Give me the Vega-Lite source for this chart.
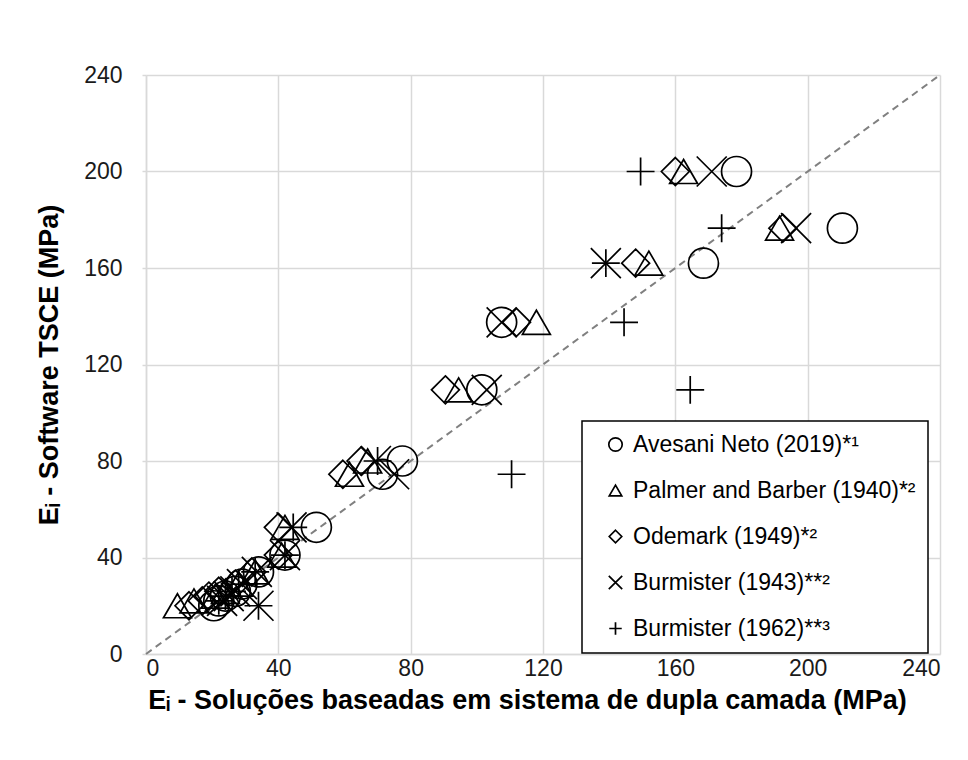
{
  "$schema": "https://vega.github.io/schema/vega-lite/v6.json",
  "width": 794,
  "height": 579,
  "autosize": {"type": "none"},
  "padding": {"left": 146, "top": 75, "right": 28, "bottom": 106},
  "background": "white",
  "datasets": {
    "identidade": [{"x": 0, "y": 0, "x2": 240, "y2": 240}],
    "pontos": [
      {"serie": "Odemark (1949)*²", "x": 160, "y": 200},
      {"serie": "Palmer and Barber (1940)*²", "x": 162.5, "y": 200},
      {"serie": "Burmister (1943)**²", "x": 171, "y": 200},
      {"serie": "Burmister (1962)**³", "x": 149.5, "y": 200},
      {"serie": "Avesani Neto (2019)*¹", "x": 178.5, "y": 200},
      {"serie": "Odemark (1949)*²", "x": 192.5, "y": 176.5},
      {"serie": "Palmer and Barber (1940)*²", "x": 191.5, "y": 176.5},
      {"serie": "Burmister (1943)**²", "x": 196.5, "y": 176.5},
      {"serie": "Burmister (1962)**³", "x": 174, "y": 176.5},
      {"serie": "Avesani Neto (2019)*¹", "x": 210.5, "y": 176.5},
      {"serie": "Odemark (1949)*²", "x": 148, "y": 162},
      {"serie": "Palmer and Barber (1940)*²", "x": 152, "y": 162},
      {"serie": "Burmister (1943)**²", "x": 139, "y": 162},
      {"serie": "Burmister (1962)**³", "x": 139, "y": 162},
      {"serie": "Avesani Neto (2019)*¹", "x": 168.5, "y": 162},
      {"serie": "Odemark (1949)*²", "x": 112, "y": 137.5},
      {"serie": "Palmer and Barber (1940)*²", "x": 118, "y": 137.5},
      {"serie": "Burmister (1943)**²", "x": 107.5, "y": 137.5},
      {"serie": "Burmister (1962)**³", "x": 144.5, "y": 137.5},
      {"serie": "Avesani Neto (2019)*¹", "x": 107.5, "y": 137.5},
      {"serie": "Odemark (1949)*²", "x": 90.5, "y": 109.5},
      {"serie": "Palmer and Barber (1940)*²", "x": 94.5, "y": 109.5},
      {"serie": "Burmister (1943)**²", "x": 103, "y": 109.5},
      {"serie": "Burmister (1962)**³", "x": 164.5, "y": 109.5},
      {"serie": "Avesani Neto (2019)*¹", "x": 101.5, "y": 109.5},
      {"serie": "Odemark (1949)*²", "x": 65, "y": 80},
      {"serie": "Palmer and Barber (1940)*²", "x": 67, "y": 80},
      {"serie": "Burmister (1943)**²", "x": 69.5, "y": 80},
      {"serie": "Burmister (1962)**³", "x": 70, "y": 80},
      {"serie": "Avesani Neto (2019)*¹", "x": 77.5, "y": 80},
      {"serie": "Odemark (1949)*²", "x": 59.5, "y": 74.5},
      {"serie": "Palmer and Barber (1940)*²", "x": 61.5, "y": 74.5},
      {"serie": "Burmister (1943)**²", "x": 75, "y": 74.5},
      {"serie": "Burmister (1962)**³", "x": 110.5, "y": 74.5},
      {"serie": "Avesani Neto (2019)*¹", "x": 71.5, "y": 74.5},
      {"serie": "Odemark (1949)*²", "x": 40, "y": 52.5},
      {"serie": "Palmer and Barber (1940)*²", "x": 42, "y": 52.5},
      {"serie": "Burmister (1943)**²", "x": 44, "y": 52.5},
      {"serie": "Burmister (1962)**³", "x": 44.5, "y": 52.5},
      {"serie": "Avesani Neto (2019)*¹", "x": 51.5, "y": 52.5},
      {"serie": "Odemark (1949)*²", "x": 40, "y": 41},
      {"serie": "Palmer and Barber (1940)*²", "x": 41, "y": 41},
      {"serie": "Burmister (1943)**²", "x": 42, "y": 41},
      {"serie": "Burmister (1962)**³", "x": 42, "y": 41},
      {"serie": "Avesani Neto (2019)*¹", "x": 42, "y": 41},
      {"serie": "Odemark (1949)*²", "x": 32, "y": 34},
      {"serie": "Palmer and Barber (1940)*²", "x": 33, "y": 34},
      {"serie": "Burmister (1943)**²", "x": 33.5, "y": 34},
      {"serie": "Burmister (1962)**³", "x": 33, "y": 34},
      {"serie": "Avesani Neto (2019)*¹", "x": 34, "y": 34},
      {"serie": "Odemark (1949)*²", "x": 27, "y": 29},
      {"serie": "Palmer and Barber (1940)*²", "x": 28, "y": 29},
      {"serie": "Burmister (1943)**²", "x": 29, "y": 29},
      {"serie": "Burmister (1962)**³", "x": 28, "y": 29},
      {"serie": "Avesani Neto (2019)*¹", "x": 29, "y": 29},
      {"serie": "Odemark (1949)*²", "x": 22, "y": 26},
      {"serie": "Palmer and Barber (1940)*²", "x": 24, "y": 26},
      {"serie": "Burmister (1943)**²", "x": 27, "y": 26},
      {"serie": "Burmister (1962)**³", "x": 26, "y": 26},
      {"serie": "Avesani Neto (2019)*¹", "x": 27, "y": 26},
      {"serie": "Odemark (1949)*²", "x": 19, "y": 24},
      {"serie": "Palmer and Barber (1940)*²", "x": 21, "y": 24},
      {"serie": "Burmister (1943)**²", "x": 25, "y": 24},
      {"serie": "Burmister (1962)**³", "x": 24, "y": 24},
      {"serie": "Avesani Neto (2019)*¹", "x": 24, "y": 24},
      {"serie": "Odemark (1949)*²", "x": 17, "y": 22},
      {"serie": "Palmer and Barber (1940)*²", "x": 14.5, "y": 22},
      {"serie": "Burmister (1943)**²", "x": 23, "y": 22},
      {"serie": "Burmister (1962)**³", "x": 22, "y": 22},
      {"serie": "Avesani Neto (2019)*¹", "x": 22, "y": 22},
      {"serie": "Odemark (1949)*²", "x": 13, "y": 20},
      {"serie": "Palmer and Barber (1940)*²", "x": 9.5, "y": 20},
      {"serie": "Burmister (1943)**²", "x": 34, "y": 20},
      {"serie": "Burmister (1962)**³", "x": 34, "y": 20},
      {"serie": "Avesani Neto (2019)*¹", "x": 20.5, "y": 20}
    ]
  },
  "layer": [
    {
      "data": {"name": "identidade"},
      "mark": {"type": "rule", "color": "#808080", "strokeWidth": 2, "strokeDash": [7, 5]},
      "encoding": {
        "x": {"field": "x", "type": "quantitative", "scale": {"domain": [0, 240]}},
        "y": {"field": "y", "type": "quantitative", "scale": {"domain": [0, 240]}},
        "x2": {"field": "x2"},
        "y2": {"field": "y2"}
      }
    },
    {
      "data": {"name": "pontos"},
      "mark": {"type": "point", "filled": false, "size": 900, "opacity": 1, "color": "black"},
      "encoding": {
        "x": {
          "field": "x", "type": "quantitative",
          "scale": {"domain": [0, 240], "nice": false, "zero": true},
          "axis": {"values": [0, 40, 80, 120, 160, 200, 240], "title": "Eᵢ - Soluções baseadas em sistema de dupla camada (MPa)", "ticks": false, "labelPadding": 3, "titlePadding": 7, "titleX": 381}
        },
        "y": {
          "field": "y", "type": "quantitative",
          "scale": {"domain": [0, 240], "nice": false},
          "axis": {"values": [0, 40, 80, 120, 160, 200, 240], "title": "Eᵢ - Software TSCE (MPa)", "ticks": true, "tickSize": 4, "labelPadding": 20, "titlePadding": 20}
        },
        "shape": {
          "field": "serie", "type": "nominal",
          "scale": {
            "domain": ["Avesani Neto (2019)*¹", "Palmer and Barber (1940)*²", "Odemark (1949)*²", "Burmister (1943)**²", "Burmister (1962)**³"],
            "range": ["circle", "M0,-0.8L0.93,0.8L-0.93,0.8Z", "M0,-0.93L0.93,0L0,0.93L-0.93,0Z", "M-1,-1L1,1M-1,1L1,-1", "M-0.93,0L0.93,0M0,-0.93L0,0.93"]
          },
          "legend": {"title": null}
        },
        "strokeWidth": {
          "field": "serie", "type": "nominal",
          "scale": {
            "domain": ["Avesani Neto (2019)*¹", "Palmer and Barber (1940)*²", "Odemark (1949)*²", "Burmister (1943)**²", "Burmister (1962)**³"],
            "range": [1.7, 1.7, 1.7, 3, 3]
          },
          "legend": {"title": null}
        }
      }
    }
  ],
  "config": {
    "view": {"stroke": null},
    "font": "Liberation Sans",
    "axis": {
      "labelFont": "Liberation Sans",
      "labelFontSize": 23,
      "labelColor": "#1a1a1a",
      "titleFont": "Liberation Sans",
      "titleFontSize": 27,
      "titleFontWeight": "bold",
      "titleColor": "#000000",
      "gridColor": "#d9d9d9",
      "gridWidth": 1.5,
      "domainColor": "#d9d9d9",
      "domainWidth": 1.5,
      "tickColor": "#d9d9d9",
      "tickWidth": 1.5
    },
    "legend": {
      "orient": "none",
      "legendX": 436,
      "legendY": 346,
      "strokeColor": "black",
      "strokeWidth": 1.5,
      "fillColor": "white",
      "padding": 12,
      "rowPadding": 22,
      "labelFont": "Liberation Sans",
      "labelFontSize": 23,
      "labelLimit": 0,
      "labelColor": "#000000",
      "labelOffset": 6,
      "symbolOffset": 10,
      "symbolSize": 180,
      "symbolStrokeColor": "black",
      "symbolStrokeWidth": 2,
      "symbolFillColor": "transparent"
    }
  }
}
